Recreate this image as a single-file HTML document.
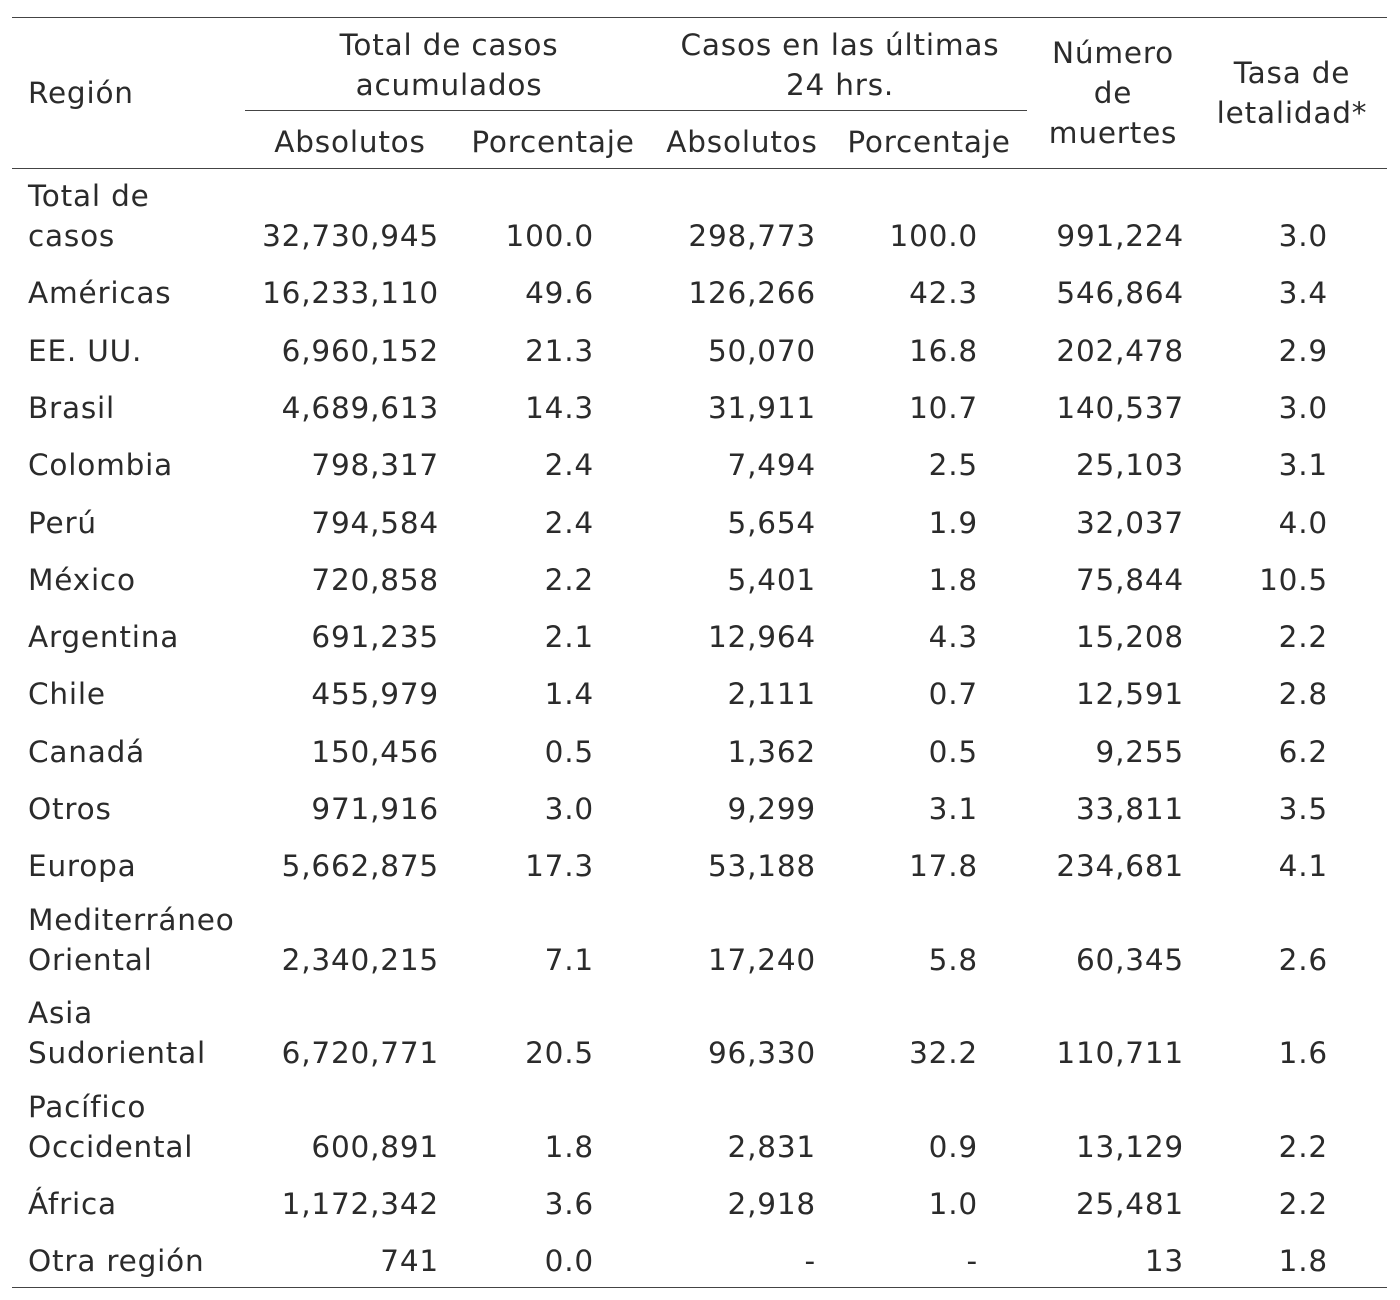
<!DOCTYPE html>
<html><head><meta charset="utf-8">
<style>
html,body{margin:0;padding:0;background:#fff;}
#wrap{position:relative;width:1400px;height:1300px;overflow:hidden;font-family:"DejaVu Sans","Liberation Sans",sans-serif;font-size:29.5px;letter-spacing:0.8px;color:#2b2b2b;}
.t{position:absolute;line-height:40px;white-space:nowrap;}
.c{transform:translateX(-50%);text-align:center;}
.r{transform:translateX(-100%);text-align:right;}
.ln{position:absolute;height:1px;background:#444;}
</style></head><body>
<div id="wrap">
<div class="ln" style="left:12px;top:17px;width:1375px"></div>
<div class="ln" style="left:245px;top:110px;width:782px"></div>
<div class="ln" style="left:12px;top:168px;width:1375px"></div>
<div class="ln" style="left:12px;top:1287px;width:1375px"></div>
<div class="t" style="left:28px;top:73px">Región</div>
<div class="t c" style="left:449px;top:25px">Total de casos</div>
<div class="t c" style="left:449px;top:65px">acumulados</div>
<div class="t c" style="left:840px;top:25px">Casos en las últimas</div>
<div class="t c" style="left:840px;top:65px">24 hrs.</div>
<div class="t c" style="left:1113px;top:33px">Número</div>
<div class="t c" style="left:1113px;top:73px">de</div>
<div class="t c" style="left:1113px;top:113px">muertes</div>
<div class="t c" style="left:1292px;top:53px">Tasa de</div>
<div class="t c" style="left:1292px;top:93px">letalidad*</div>
<div class="t c" style="left:350px;top:122px">Absolutos</div>
<div class="t c" style="left:553px;top:122px">Porcentaje</div>
<div class="t c" style="left:742px;top:122px">Absolutos</div>
<div class="t c" style="left:929px;top:122px">Porcentaje</div>
</div>
<script>
const regions=[["Total de","casos"],["Américas"],["EE. UU."],["Brasil"],["Colombia"],["Perú"],["México"],["Argentina"],["Chile"],["Canadá"],["Otros"],["Europa"],["Mediterráneo","Oriental"],["Asia","Sudoriental"],["Pacífico","Occidental"],["África"],["Otra región"]];
const totalAbs=["32,730,945","16,233,110","6,960,152","4,689,613","798,317","794,584","720,858","691,235","455,979","150,456","971,916","5,662,875","2,340,215","6,720,771","600,891","1,172,342","741"];
const totalPct=["100.0","49.6","21.3","14.3","2.4","2.4","2.2","2.1","1.4","0.5","3.0","17.3","7.1","20.5","1.8","3.6","0.0"];
const dayAbs=["298,773","126,266","50,070","31,911","7,494","5,654","5,401","12,964","2,111","1,362","9,299","53,188","17,240","96,330","2,831","2,918","-"];
const dayPct=["100.0","42.3","16.8","10.7","2.5","1.9","1.8","4.3","0.7","0.5","3.1","17.8","5.8","32.2","0.9","1.0","-"];
const deaths=["991,224","546,864","202,478","140,537","25,103","32,037","75,844","15,208","12,591","9,255","33,811","234,681","60,345","110,711","13,129","25,481","13"];
const fatality=["3.0","3.4","2.9","3.0","3.1","4.0","10.5","2.2","2.8","6.2","3.5","4.1","2.6","1.6","2.2","2.2","1.8"];
const wrap=document.getElementById('wrap');
const colRight=[439,594,816,978,1184,1328];
const cols=[totalAbs,totalPct,dayAbs,dayPct,deaths,fatality];
const colNames=['total-abs','total-pct','day-abs','day-pct','deaths','fatality'];
function add(txt,cls,left,cy){const d=document.createElement('div');d.className='t '+cls;d.style.left=left+'px';d.style.top=(cy-20)+'px';d.textContent=txt;wrap.appendChild(d);return d;}
let y=236;
regions.forEach((lab,i)=>{
  if(i>0) y+= (lab.length>1? 93.5 : 57.3);
  if(lab.length>1){
    const a=add(lab[0],'',28,y-40);
    
    
  }
  const b=add(lab[lab.length-1],'',28,y);
  
  
  cols.forEach((arr,j)=>{
    const c=add(arr[i],'r',colRight[j],y);
    
    
  });
});
</script>
</body></html>
